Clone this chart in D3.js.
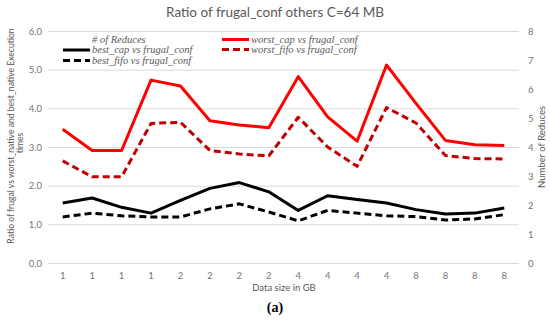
<!DOCTYPE html>
<html>
<head>
<meta charset="utf-8">
<script src="https://cdn.jsdelivr.net/npm/d3@7"></script>
<style>
  body { margin: 0; background: #fff; }
  text { font-family: Lato, "Open Sans", sans-serif; }
</style>
</head>
<body>
<div id="chart"></div>
<script>
// data
const sizes = ['1','1','1','1','2','2','2','2','4','4','4','4','8','8','8','8'];
const bestCap   = [1.55, 1.68, 1.44, 1.29, 1.62, 1.93, 2.08, 1.84, 1.36, 1.74, 1.64, 1.55, 1.38, 1.27, 1.29, 1.42];
const bestFifo  = [1.19, 1.29, 1.22, 1.19, 1.19, 1.40, 1.53, 1.32, 1.09, 1.36, 1.29, 1.22, 1.20, 1.11, 1.14, 1.25];
const worstCap  = [3.46, 2.91, 2.91, 4.73, 4.58, 3.68, 3.57, 3.50, 4.82, 3.78, 3.15, 5.12, 4.13, 3.17, 3.06, 3.04];
const worstFifo = [2.64, 2.23, 2.23, 3.61, 3.64, 2.91, 2.82, 2.77, 3.77, 3.00, 2.50, 4.02, 3.62, 2.78, 2.70, 2.69];
const leftTicks = [0, 1, 2, 3, 4, 5, 6];
const rightTicks = [0, 1, 2, 3, 4, 5, 6, 7, 8];

const series = [
  {name: 'best_cap vs frugal_conf',   values: bestCap,   color: '#000000', dash: null},
  {name: 'best_fifo vs frugal_conf',  values: bestFifo,  color: '#000000', dash: '7,4'},
  {name: 'worst_cap vs frugal_conf',  values: worstCap,  color: '#FF0000', dash: null},
  {name: 'worst_fifo vs frugal_conf', values: worstFifo, color: '#C00000', dash: '7,4'}
];

const W = 550, H = 321;
const m = {left: 48, right: 519, top: 31, bottom: 263};
const grey = '#595959';
const tickGrey = '#757575';

const svg = d3.select('#chart').append('svg')
  .attr('width', W).attr('height', H);

const x = d3.scaleBand().domain(d3.range(sizes.length)).range([m.left, m.right]);
const y = d3.scaleLinear().domain([0, 6]).range([m.bottom, m.top]);
const yR = d3.scaleLinear().domain([0, 8]).range([m.bottom, m.top]);

// left axis + grid
const gy = svg.append('g')
  .attr('transform', 'translate(' + m.left + ',0)')
  .call(d3.axisLeft(y).tickValues(leftTicks).tickFormat(d3.format('.1f'))
    .tickSize(-(m.right - m.left)).tickPadding(6));
gy.select('.domain').remove();
gy.selectAll('.tick line').attr('stroke', '#D9D9D9');
gy.selectAll('.tick text').attr('fill', tickGrey).style('font-size', '9.5px');

// right axis
const gr = svg.append('g')
  .attr('transform', 'translate(' + m.right + ',0)')
  .call(d3.axisRight(yR).tickValues(rightTicks).tickSize(0).tickPadding(9));
gr.select('.domain').remove();
gr.selectAll('.tick text').attr('fill', tickGrey).style('font-size', '9.5px');

// bottom axis
const gx = svg.append('g')
  .attr('transform', 'translate(0,' + m.bottom + ')')
  .call(d3.axisBottom(x).tickFormat(i => sizes[i]).tickSize(0).tickPadding(9));
gx.select('.domain').remove();
gx.selectAll('.tick text').attr('fill', tickGrey).style('font-size', '9.5px');

// lines
const line = d3.line()
  .x((d, i) => x(i) + x.bandwidth() / 2)
  .y(d => y(d));

svg.append('g').selectAll('path')
  .data(series)
  .enter()
  .append('path')
  .attr('d', d => line(d.values))
  .attr('fill', 'none')
  .attr('stroke', d => d.color)
  .attr('stroke-width', 3)
  .attr('stroke-dasharray', d => d.dash)
  .attr('stroke-linejoin', 'round');

// legend
const lg = svg.append('g').style('font-style', 'italic').style('font-size', '10.5px');
const legendItems = [
  {name: '# of Reduces', color: null, dash: null, x: 63, y: 40},
  {name: series[0].name, color: series[0].color, dash: series[0].dash, x: 63, y: 50},
  {name: series[1].name, color: series[1].color, dash: series[1].dash, x: 63, y: 60.5},
  {name: series[2].name, color: series[2].color, dash: series[2].dash, x: 222, y: 39.5},
  {name: series[3].name, color: series[3].color, dash: series[3].dash, x: 222, y: 49.5}
];
legendItems.forEach(d => {
  if (d.color) {
    lg.append('line')
      .attr('x1', d.x).attr('x2', d.x + 27)
      .attr('y1', d.y).attr('y2', d.y)
      .attr('stroke', d.color).attr('stroke-width', 3)
      .attr('stroke-dasharray', d.dash);
  }
  lg.append('text')
    .attr('x', d.x + 29).attr('y', d.y).attr('dy', '0.32em')
    .style('font-family', '"Liberation Serif", serif')
    .attr('fill', grey).text(d.name);
});

// titles
svg.append('text')
  .attr('x', 275).attr('y', 12).attr('dy', '0.35em')
  .attr('text-anchor', 'middle').attr('fill', grey)
  .style('font-size', '13.5px')
  .text('Ratio of frugal_conf others C=64 MB');

svg.append('text')
  .attr('x', 284).attr('y', 288).attr('dy', '0.35em')
  .attr('text-anchor', 'middle').attr('fill', grey)
  .style('font-size', '9.5px')
  .text('Data size in GB');

const yt = svg.append('text')
  .attr('transform', 'translate(11,136) rotate(-90)')
  .attr('text-anchor', 'middle').attr('fill', grey)
  .style('font-size', '8.6px');
yt.append('tspan').attr('x', 0).attr('dy', '0.35em')
  .text('Ratio of frugal vs worst_native and best_native Execution');
yt.append('tspan').attr('x', -7).attr('dy', '1.1em').text('times');

svg.append('text')
  .attr('transform', 'translate(542,147) rotate(-90)')
  .attr('dy', '0.35em')
  .attr('text-anchor', 'middle').attr('fill', grey)
  .style('font-size', '9.5px')
  .text('Number of Reduces');

svg.append('text')
  .attr('x', 275).attr('y', 307).attr('dy', '0.35em')
  .attr('text-anchor', 'middle').attr('fill', '#000')
  .style('font-family', '"Liberation Serif", serif')
  .style('font-weight', 'bold').style('font-size', '14px')
  .text('(a)');
</script>
</body>
</html>
